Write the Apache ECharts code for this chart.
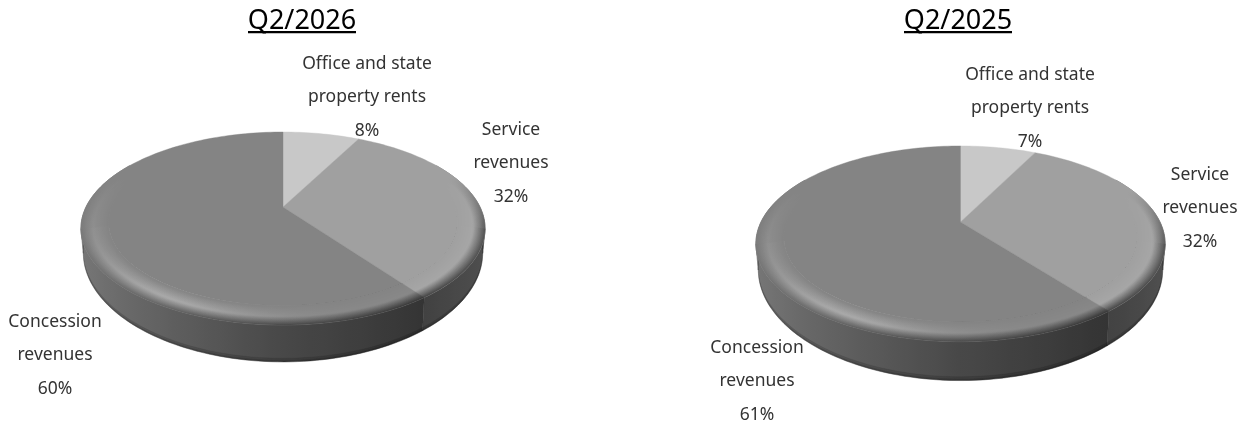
<!DOCTYPE html>
<html>
<head>
<meta charset="utf-8">
<style>html,body{margin:0;padding:0;background:#fff}#c{width:1256px;height:423px}</style>
<script src="https://cdn.jsdelivr.net/npm/echarts@6/dist/echarts.min.js"></script>
</head>
<body>
<div id="c"></div>
<script>
const categories = ['Office and state\nproperty rents', 'Service\nrevenues', 'Concession\nrevenues'];
const periods = ['Q2/2026', 'Q2/2025'];
const values2026 = [7.6, 32.4, 60];
const values2025 = [7.4, 32.1, 60.5];

const faceGray = [200, 160, 132];
const layout = [
  { cx: 283, ay: 207, R: 197, S: 91.7, k: 0.2228, D: 22.3, titleX: 302, labels: [[367, 97.5], [511, 163.5], [55, 355.5]] },
  { cx: 960.5, ay: 222, R: 199.5, S: 93, k: 0.2228, D: 23.5, titleX: 958, labels: [[1030, 108.5], [1200, 208.5], [757, 381.5]] }
];
const FONT = '"Noto Sans","Open Sans",sans-serif';
const DEG = Math.PI / 180;
const RIM_INNER = 0.87, RIM_BANDS = 22;
const BREAKS = [60, 103, 257, 300].map(d => d * DEG);

function clamp(v, a, b) { return Math.max(a, Math.min(b, v)); }
function g(v) { v = Math.round(clamp(v, 0, 255)); return 'rgb(' + v + ',' + v + ',' + v + ')'; }
function project(L, th, r, depth) {
  const u = r * Math.sin(th), v = r * Math.cos(th), w = 1 + L.k * v;
  const sc = 1 - 0.012 * depth;
  return [L.cx + sc * L.R * u / w, L.ay - L.S * v / w + depth * L.D / (w * w)];
}
function sideGray(th, idx) {
  const s = Math.sin(th);
  if (idx !== 2) return 66 + Math.max(0, s - 0.6) * 40;
  if (s < 0) return 72 + (-s) * 50;
  return 72 - (s / 0.6) * 20;
}
function highlightAmp(th, idx) {
  if (idx !== 2) return 6;
  const s = Math.sin(th);
  return 4 + 34 * Math.exp(-Math.pow((s + 0.5) / 0.4, 2));
}
function rimGray(th, t, idx) {
  const face = faceGray[idx];
  const front = clamp((-Math.cos(th) + 0.35) / 0.6, 0, 1);
  const side = sideGray(th, idx);
  const hi = face + highlightAmp(th, idx);
  const mid = hi * 0.45 + side * 0.55;
  let v;
  if (t < 0.55) v = face + (hi - face) * (t / 0.55);
  else if (t < 0.8) v = hi + (mid - hi) * ((t - 0.55) / 0.25);
  else v = mid + (side - mid) * ((t - 0.8) / 0.2);
  return face * (1 - front) + v * front;
}
// a horizontal gradient whose colour at each x follows the angle on the arc
function xGradient(L, a, b, r, colorAt) {
  const n = Math.max(2, Math.ceil((b - a) / (3 * DEG)));
  const samples = [];
  for (let i = 0; i <= n; i++) {
    const th = a + (b - a) * i / n;
    samples.push([project(L, th, r, 0)[0], colorAt(th)]);
  }
  samples.sort((p, q) => p[0] - q[0]);
  const x0 = samples[0][0], x1 = samples[n][0];
  const span = Math.max(x1 - x0, 0.01);
  return {
    type: 'linear', global: true, x: x0, y: 0, x2: x0 + span, y2: 0,
    colorStops: samples.map(s => ({ offset: clamp((s[0] - x0) / span, 0, 1), color: g(s[1]) }))
  };
}
function arc(L, a, b, r, d) {
  const n = Math.max(2, Math.ceil((b - a) / (1.5 * DEG)));
  const out = [];
  for (let i = 0; i <= n; i++) out.push(project(L, a + (b - a) * i / n, r, d));
  return out;
}
function poly(points, fill, z2) {
  return { type: 'polygon', silent: true, z2: z2, shape: { points: points }, style: { fill: fill, stroke: fill, lineWidth: 0.4 } };
}

function makeRender(L, values) {
  const total = values.reduce((a, b) => a + b, 0);
  return function (params, api) {
    const idx = params.dataIndex;
    const th0 = api.value(0) / total * 360 * DEG;
    const th1 = api.value(1) / total * 360 * DEG;
    const children = [];
    children.push({
      type: 'polygon', silent: true, z2: 20,
      shape: { points: [[L.cx, L.ay]].concat(arc(L, th0, th1, 1, 0)) },
      style: { fill: g(faceGray[idx]), stroke: g(faceGray[idx]), lineWidth: 0.4 }
    });
    const cuts = [BREAKS[0], BREAKS[1], BREAKS[2], BREAKS[3]];
    for (let c = 0; c < cuts.length - 1; c++) {
      const a = Math.max(th0, cuts[c]), b = Math.min(th1, cuts[c + 1]);
      if (b <= a) continue;
      // outer rings first; each smaller ring paints over the one before it
      for (let j = RIM_BANDS; j >= 1; j--) {
        const t = (j - 0.5) / RIM_BANDS;
        const r = RIM_INNER + (1 - RIM_INNER) * j / RIM_BANDS;
        const pts = arc(L, a, b, r, 0).concat(arc(L, a, b, RIM_INNER, 0).reverse());
        children.push(poly(pts, xGradient(L, a, b, r, th => rimGray(th, t, idx)), 30 + RIM_BANDS - j));
      }
      const sidePts = arc(L, a, b, 1, 0).concat(arc(L, a, b, 1, 1).reverse());
      children.push(poly(sidePts, xGradient(L, a, b, 1, th => sideGray(th, idx)), 5));
      children.push(poly(arc(L, a, b, 1, 0.9).concat(arc(L, a, b, 1, 1).reverse()), 'rgba(0,0,0,0.14)', 6));
      children.push(poly(arc(L, a, b, 1, 0.96).concat(arc(L, a, b, 1, 1).reverse()), 'rgba(0,0,0,0.12)', 7));
    }
    const pct = Math.round(values[idx] / total * 100) + '%';
    children.push({
      type: 'text', silent: true, z2: 60,
      style: {
        text: categories[idx] + '\n' + pct,
        x: L.labels[idx][0], y: L.labels[idx][1],
        align: 'center', verticalAlign: 'middle',
        font: '17.5px ' + FONT, lineHeight: 33.5, fill: '#333'
      }
    });
    return { type: 'group', children: children };
  };
}

function seriesFor(L, values) {
  let acc = 0;
  const data = values.map((v, i) => {
    const row = { name: categories[i].replace('\n', ' '), value: [acc, acc + v] };
    acc += v;
    return row;
  });
  return {
    type: 'custom', coordinateSystem: 'none', animation: false, silent: true,
    renderItem: makeRender(L, values), data: data
  };
}

const chart = echarts.init(document.getElementById('c'), null, { renderer: 'canvas' });
chart.setOption({
  animation: false,
  backgroundColor: '#fff',
  title: periods.map((p, i) => ({
    text: p, left: layout[i].titleX - 5, top: 3, textAlign: 'center',
    textStyle: { fontFamily: FONT, fontSize: 27, fontWeight: 'normal', color: '#000' }
  })),
  graphic: layout.map(L => ({
    type: 'rect', silent: true,
    shape: { x: L.titleX - 54, y: 31, width: 108, height: 2.2 },
    style: { fill: '#000' }
  })),
  series: [seriesFor(layout[0], values2026), seriesFor(layout[1], values2025)]
});
</script>
</body>
</html>
